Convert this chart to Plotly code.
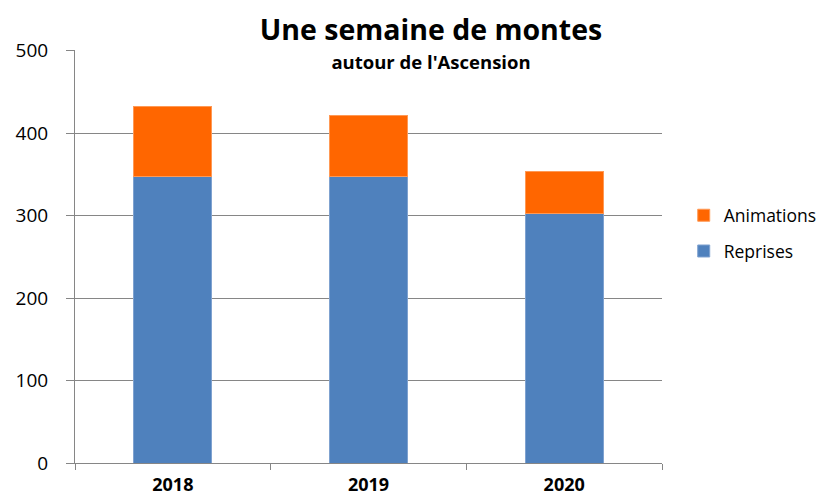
import plotly.graph_objects as go

years = ["2018", "2019", "2020"]
reprises = [347, 348, 303]
animations = [85, 74, 51]

title_text = "Une semaine de montes"
subtitle_text = "autour de l'Ascension"
y_ticks = [0, 100, 200, 300, 400, 500]

FONT = "Open Sans, Liberation Sans, sans-serif"

# The page body has an 8px margin, so the figure is sized to fit the window.
fig = go.Figure()
fig.add_trace(go.Bar(name="Reprises", x=years, y=reprises, legendgroup="r", legendrank=2,
                     marker=dict(color="#4F81BD", line=dict(color="#7FA2D0", width=1))))
fig.add_trace(go.Bar(name="Animations", x=years, y=animations, legendgroup="a", legendrank=1,
                     marker=dict(color="#FF6600", line=dict(color="#FF9955", width=1))))

fig.update_layout(
    width=821, height=489,
    barmode="stack", bargap=0.6,
    plot_bgcolor="white", paper_bgcolor="white",
    margin=dict(l=67, r=167, t=42, b=34, autoexpand=False),
    font=dict(family=FONT, size=19, color="#000000"),
    showlegend=True,
    legend=dict(traceorder="grouped", x=1.037, y=0.556, xanchor="left", yanchor="middle",
                font=dict(size=17.5, color="#000000"), itemwidth=30, tracegroupgap=10,
                bgcolor="rgba(0,0,0,0)"),
    xaxis=dict(type="category", range=[-0.5, 2.5], tickson="boundaries",
               ticks="outside", ticklen=6, tickcolor="#868686",
               showline=True, linecolor="#868686", linewidth=1,
               tickfont=dict(size=18, family=FONT, color="#000000", weight="bold"),
               ticklabelstandoff=5, showgrid=False),
    yaxis=dict(range=[0, 501], tickvals=y_ticks, ticks="outside", ticklen=8,
               tickcolor="#868686", showline=True, linecolor="#868686", linewidth=1,
               showgrid=True, gridcolor="#868686", gridwidth=1, zeroline=False,
               tickfont=dict(size=19, family=FONT, color="#000000"),
               ticklabelstandoff=14),
)

fig.add_annotation(text=title_text, xref="paper", yref="paper", x=(431 - 75) / 587, y=1.0,
                   xanchor="center", yanchor="middle", yshift=21, showarrow=False,
                   font=dict(size=28.5, family=FONT, color="#000000", weight="bold"),
                   bgcolor="white", width=398, borderpad=0)
fig.add_annotation(text=subtitle_text, xref="paper", yref="paper", x=(431 - 75) / 587, y=1.0,
                   xanchor="center", yanchor="middle", yshift=-11, showarrow=False,
                   font=dict(size=18.5, family=FONT, color="#000000", weight="bold"),
                   bgcolor="white", width=398, borderpad=0)

fig.write_html("out.html")
